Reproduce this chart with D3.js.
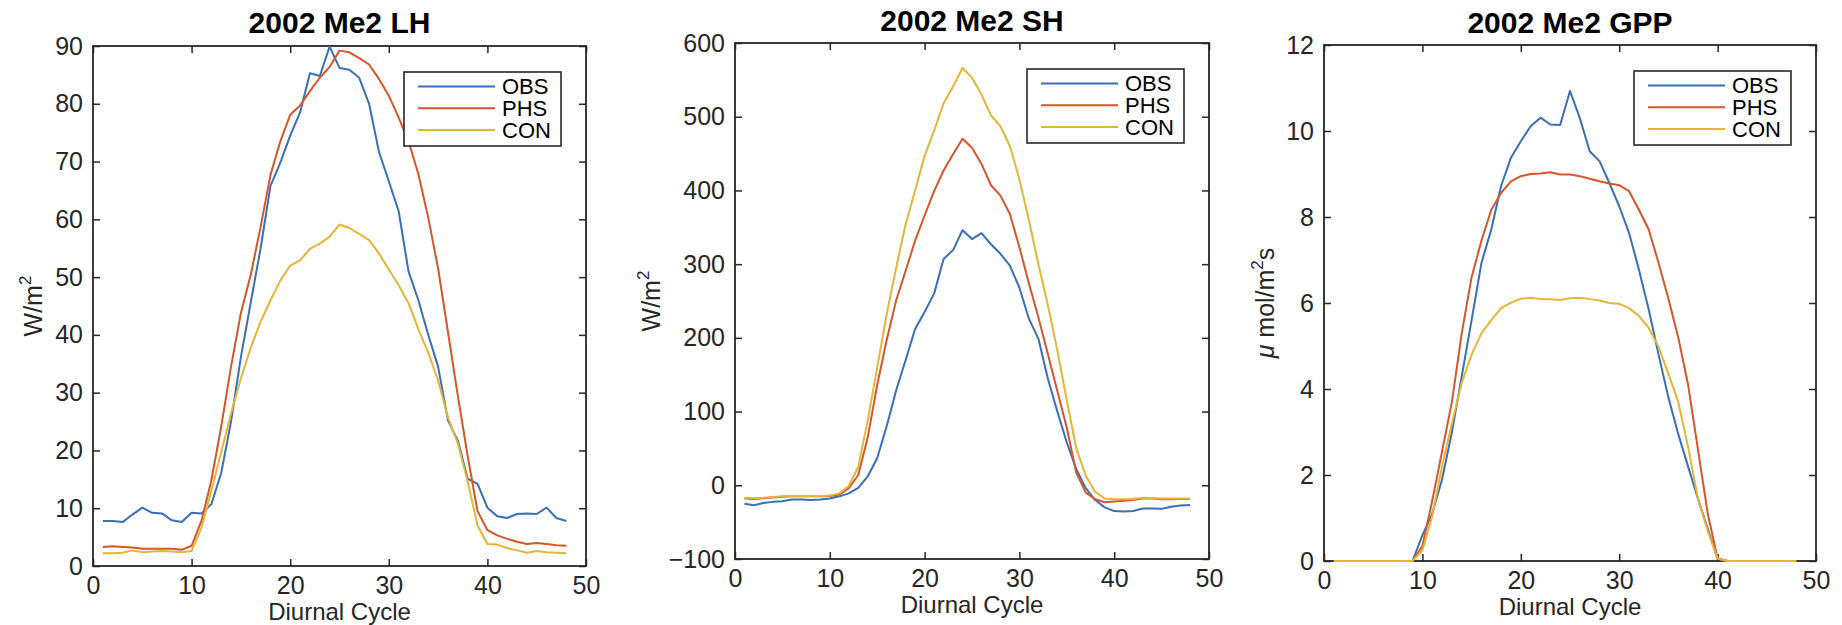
<!DOCTYPE html>
<html lang="en">
<head>
<meta charset="UTF-8" />
<title>2002 Me2 diurnal cycle</title>
<style>
  body { margin: 0; background: #fff; }
  svg { display: block; background: #fff; }
  text { font-family: "Liberation Sans", Arial, Helvetica, sans-serif; fill: #262626; }
  .tick text { font-size: 25px; fill: #262626; }
  .tick line { stroke: #262626; stroke-width: 1.5px; }
  .title { font-size: 30px; font-weight: bold; fill: #000; }
  .xlabel { font-size: 24px; }
  .ylabel { font-size: 25px; }
  .legend text { font-size: 22px; fill: #000; }
  .legend rect { fill: #fff; stroke: #262626; stroke-width: 1.6px; }
  .frame { fill: none; stroke: #262626; stroke-width: 1.8px; }
  .series { fill: none; stroke-width: 2px; stroke-linejoin: round; }
</style>
<script src="https://d3js.org/d3.v7.min.js"></script>
</head>
<body>
<svg id="chart"></svg>
<script>
// half-hour steps of the diurnal cycle
const cycle = d3.range(1, 49);

const seriesNames = ['OBS', 'PHS', 'CON'];
const seriesColors = ['#3a6fb5', '#d4562a', '#e4b536'];

const xTicks = [0, 10, 20, 30, 40, 50];
const lhTicks = [0, 10, 20, 30, 40, 50, 60, 70, 80, 90];
const shTicks = [-100, 0, 100, 200, 300, 400, 500, 600];
const gppTicks = [0, 2, 4, 6, 8, 10, 12];

// latent heat, W/m2
const lhObs = [7.8, 7.8, 7.6, 8.9, 10.1, 9.2, 9.1, 7.9, 7.6, 9.2, 9.1, 10.7, 16.1, 25.0, 36.2, 45.6,
  55.0, 65.8, 69.8, 74.5, 78.5, 85.3, 84.8, 89.9, 86.2, 85.9, 84.5, 80.0, 71.7, 66.6, 61.4, 51.0,
  46.0, 40.0, 34.5, 25.2, 21.7, 15.1, 14.2, 10.1, 8.6, 8.3, 9.0, 9.1, 9.0, 10.1, 8.3, 7.8];
const lhPhs = [3.3, 3.4, 3.3, 3.2, 3.0, 3.0, 3.0, 3.0, 2.8, 3.5, 7.8, 14.8, 24.1, 34.5, 43.8, 50.4,
  58.7, 67.7, 73.5, 78.1, 79.7, 82.2, 84.5, 86.4, 89.2, 88.9, 87.9, 86.8, 84.3, 81.4, 77.6, 73.5,
  67.8, 60.3, 51.5, 40.5, 29.5, 19.0, 9.5, 6.2, 5.3, 4.7, 4.2, 3.8, 4.0, 3.8, 3.6, 3.5];
const lhCon = [2.2, 2.2, 2.3, 2.7, 2.4, 2.5, 2.6, 2.5, 2.4, 2.6, 6.6, 13.0, 19.7, 26.4, 32.5, 37.8,
  42.3, 46.0, 49.4, 52.0, 52.9, 54.9, 55.8, 57.0, 59.1, 58.5, 57.5, 56.4, 54.1, 51.3, 48.6, 45.5,
  41.0, 36.9, 32.1, 25.7, 21.2, 14.6, 7.0, 3.8, 3.7, 3.1, 2.7, 2.3, 2.6, 2.4, 2.3, 2.2];

// sensible heat, W/m2
const shObs = [-25, -27, -24, -22.5, -21.6, -19.4, -19.4, -20, -19.4, -18, -15, -11, -3.6, 12, 37, 80,
  129, 170, 212, 235, 260, 307, 319, 346, 334, 342, 327, 314, 298, 268, 226, 199,
  145, 100, 58, 22, -4, -20, -30, -35, -35.5, -35, -31.5, -31.5, -32, -29, -27.5, -26.6];
const shPhs = [-18, -18.5, -17.5, -16.5, -15.5, -15, -15, -15, -15, -14.5, -12.6, -4, 14, 65, 136, 197,
  251, 291, 332, 366, 399, 427, 449, 470, 458, 436, 407, 393, 368, 323, 274, 228,
  178, 128, 78, 17, -10, -19, -23, -22, -21, -20, -18, -18, -19, -19, -18.5, -18.5];
const shCon = [-17, -17.5, -17, -16, -15, -14.5, -14.5, -14.5, -14.5, -14, -11, -1, 25, 88, 160, 232,
  295, 354, 400, 447, 481, 518, 541, 566, 553, 530, 502, 487, 460, 415, 360, 300,
  245, 183, 115, 50, 13, -9, -18, -19, -19, -18.5, -17, -17.5, -18, -18, -18, -18];

// gross primary production, umol/m2s
const gppObs = [0, 0, 0, 0, 0, 0, 0, 0, 0, 0.6, 1.1, 1.9, 3.0, 4.3, 5.6, 6.93,
  7.71, 8.72, 9.38, 9.76, 10.11, 10.31, 10.15, 10.14, 10.93, 10.3, 9.53, 9.3, 8.79, 8.25, 7.63, 6.78,
  5.85, 4.8, 3.8, 2.95, 2.2, 1.45, 0.75, 0.05, 0, 0, 0, 0, 0, 0, 0, 0];
const gppPhs = [0, 0, 0, 0, 0, 0, 0, 0, 0, 0.35, 1.4, 2.55, 3.7, 5.3, 6.6, 7.45,
  8.17, 8.56, 8.83, 8.95, 9.0, 9.01, 9.04, 8.99, 8.99, 8.95, 8.89, 8.83, 8.78, 8.74, 8.6, 8.17,
  7.71, 6.93, 6.1, 5.2, 4.1, 2.6, 1.1, 0.06, 0, 0, 0, 0, 0, 0, 0, 0];
const gppCon = [0, 0, 0, 0, 0, 0, 0, 0, 0, 0.25, 1.05, 2.2, 3.2, 4.15, 4.8, 5.3,
  5.6, 5.88, 6.01, 6.1, 6.12, 6.09, 6.09, 6.07, 6.11, 6.12, 6.09, 6.06, 6.0, 5.98, 5.88, 5.7,
  5.42, 4.98, 4.35, 3.7, 2.65, 1.45, 0.7, 0.06, 0, 0, 0, 0, 0, 0, 0, 0];

const panels = [
  { title: '2002 Me2 LH', ylabel: [{ t: 'W/m' }, { t: '2', sup: true }],
    yTicks: lhTicks, series: [lhObs, lhPhs, lhCon],
    box: { left: 93, right: 586, top: 46, bottom: 566, ylabelX: 42, titleY: 33, xlabelDy: 54 } },
  { title: '2002 Me2 SH', ylabel: [{ t: 'W/m' }, { t: '2', sup: true }],
    yTicks: shTicks, series: [shObs, shPhs, shCon],
    box: { left: 735, right: 1209, top: 43, bottom: 559, ylabelX: 660, titleY: 31, xlabelDy: 54 } },
  { title: '2002 Me2 GPP', ylabel: [{ t: '\u03bc', italic: true }, { t: ' mol/m' }, { t: '2', sup: true }, { t: 's' }],
    yTicks: gppTicks, series: [gppObs, gppPhs, gppCon],
    box: { left: 1324, right: 1816, top: 45, bottom: 561, ylabelX: 1274, titleY: 33, xlabelDy: 54 } }
];

const svg = d3.select('#chart').attr('width', 1842).attr('height', 625);

panels.forEach((p) => {
  const b = p.box;
  const x = d3.scaleLinear().domain([0, 50]).range([b.left, b.right]);
  const y = d3.scaleLinear().domain(d3.extent(p.yTicks)).range([b.bottom, b.top]);
  const g = svg.append('g');

  // box first, data lines are drawn over it
  g.append('rect')
    .attr('class', 'frame')
    .attr('x', b.left).attr('y', b.top)
    .attr('width', b.right - b.left).attr('height', b.bottom - b.top);

  // axes with inward ticks on all four sides
  g.append('g')
    .attr('transform', `translate(0,${b.bottom})`)
    .call(d3.axisBottom(x).tickValues(xTicks).tickSizeInner(-7).tickSizeOuter(0).tickPadding(10))
    .call((s) => s.select('.domain').remove());
  g.append('g')
    .attr('transform', `translate(0,${b.top})`)
    .call(d3.axisTop(x).tickValues(xTicks).tickSizeInner(-7).tickSizeOuter(0).tickFormat(''))
    .call((s) => s.select('.domain').remove());
  g.append('g')
    .attr('transform', `translate(${b.left},0)`)
    .call(d3.axisLeft(y).tickValues(p.yTicks).tickSizeInner(-7).tickSizeOuter(0).tickPadding(10))
    .call((s) => s.select('.domain').remove());
  g.append('g')
    .attr('transform', `translate(${b.right},0)`)
    .call(d3.axisRight(y).tickValues(p.yTicks).tickSizeInner(-7).tickSizeOuter(0).tickFormat(''))
    .call((s) => s.select('.domain').remove());
  g.selectAll('.tick text').attr('font-family', null).attr('font-size', null).attr('fill', null);
  g.selectAll('.tick line').attr('stroke', null);

  const line = d3.line().x((d, i) => x(cycle[i])).y((d) => y(d));
  p.series.forEach((vals, i) => {
    g.append('path')
      .attr('class', 'series')
      .attr('stroke', seriesColors[i])
      .attr('d', line(vals));
  });

  g.append('text')
    .attr('class', 'title')
    .attr('text-anchor', 'middle')
    .attr('x', (b.left + b.right) / 2)
    .attr('y', b.titleY)
    .text(p.title);

  g.append('text')
    .attr('class', 'xlabel')
    .attr('text-anchor', 'middle')
    .attr('x', (b.left + b.right) / 2)
    .attr('y', b.bottom + b.xlabelDy)
    .text('Diurnal Cycle');

  const yl = g.append('text')
    .attr('class', 'ylabel')
    .attr('text-anchor', 'middle')
    .attr('transform', `translate(${b.ylabelX},${(b.top + b.bottom) / 2}) rotate(-90)`);
  p.ylabel.forEach((part, i) => {
    const prev = p.ylabel[i - 1];
    const ts = yl.append('tspan').text(part.t);
    if (part.italic) ts.attr('font-style', 'italic');
    if (part.sup) ts.attr('font-size', '17px').attr('dy', -11);
    else if (prev && prev.sup) ts.attr('dy', 11);
  });

  // legend box in the top right corner
  const lg = g.append('g')
    .attr('class', 'legend')
    .attr('transform', `translate(${b.right - 182},${b.top + 26})`);
  lg.append('rect').attr('width', 157).attr('height', 74);
  seriesNames.forEach((name, i) => {
    const ry = 14.5 + i * 21.7;
    lg.append('line')
      .attr('x1', 14).attr('x2', 91).attr('y1', ry).attr('y2', ry)
      .attr('stroke', seriesColors[i]).attr('stroke-width', 2);
    lg.append('text').attr('x', 98).attr('y', ry).attr('dy', '0.36em').text(name);
  });
});
</script>
</body>
</html>
